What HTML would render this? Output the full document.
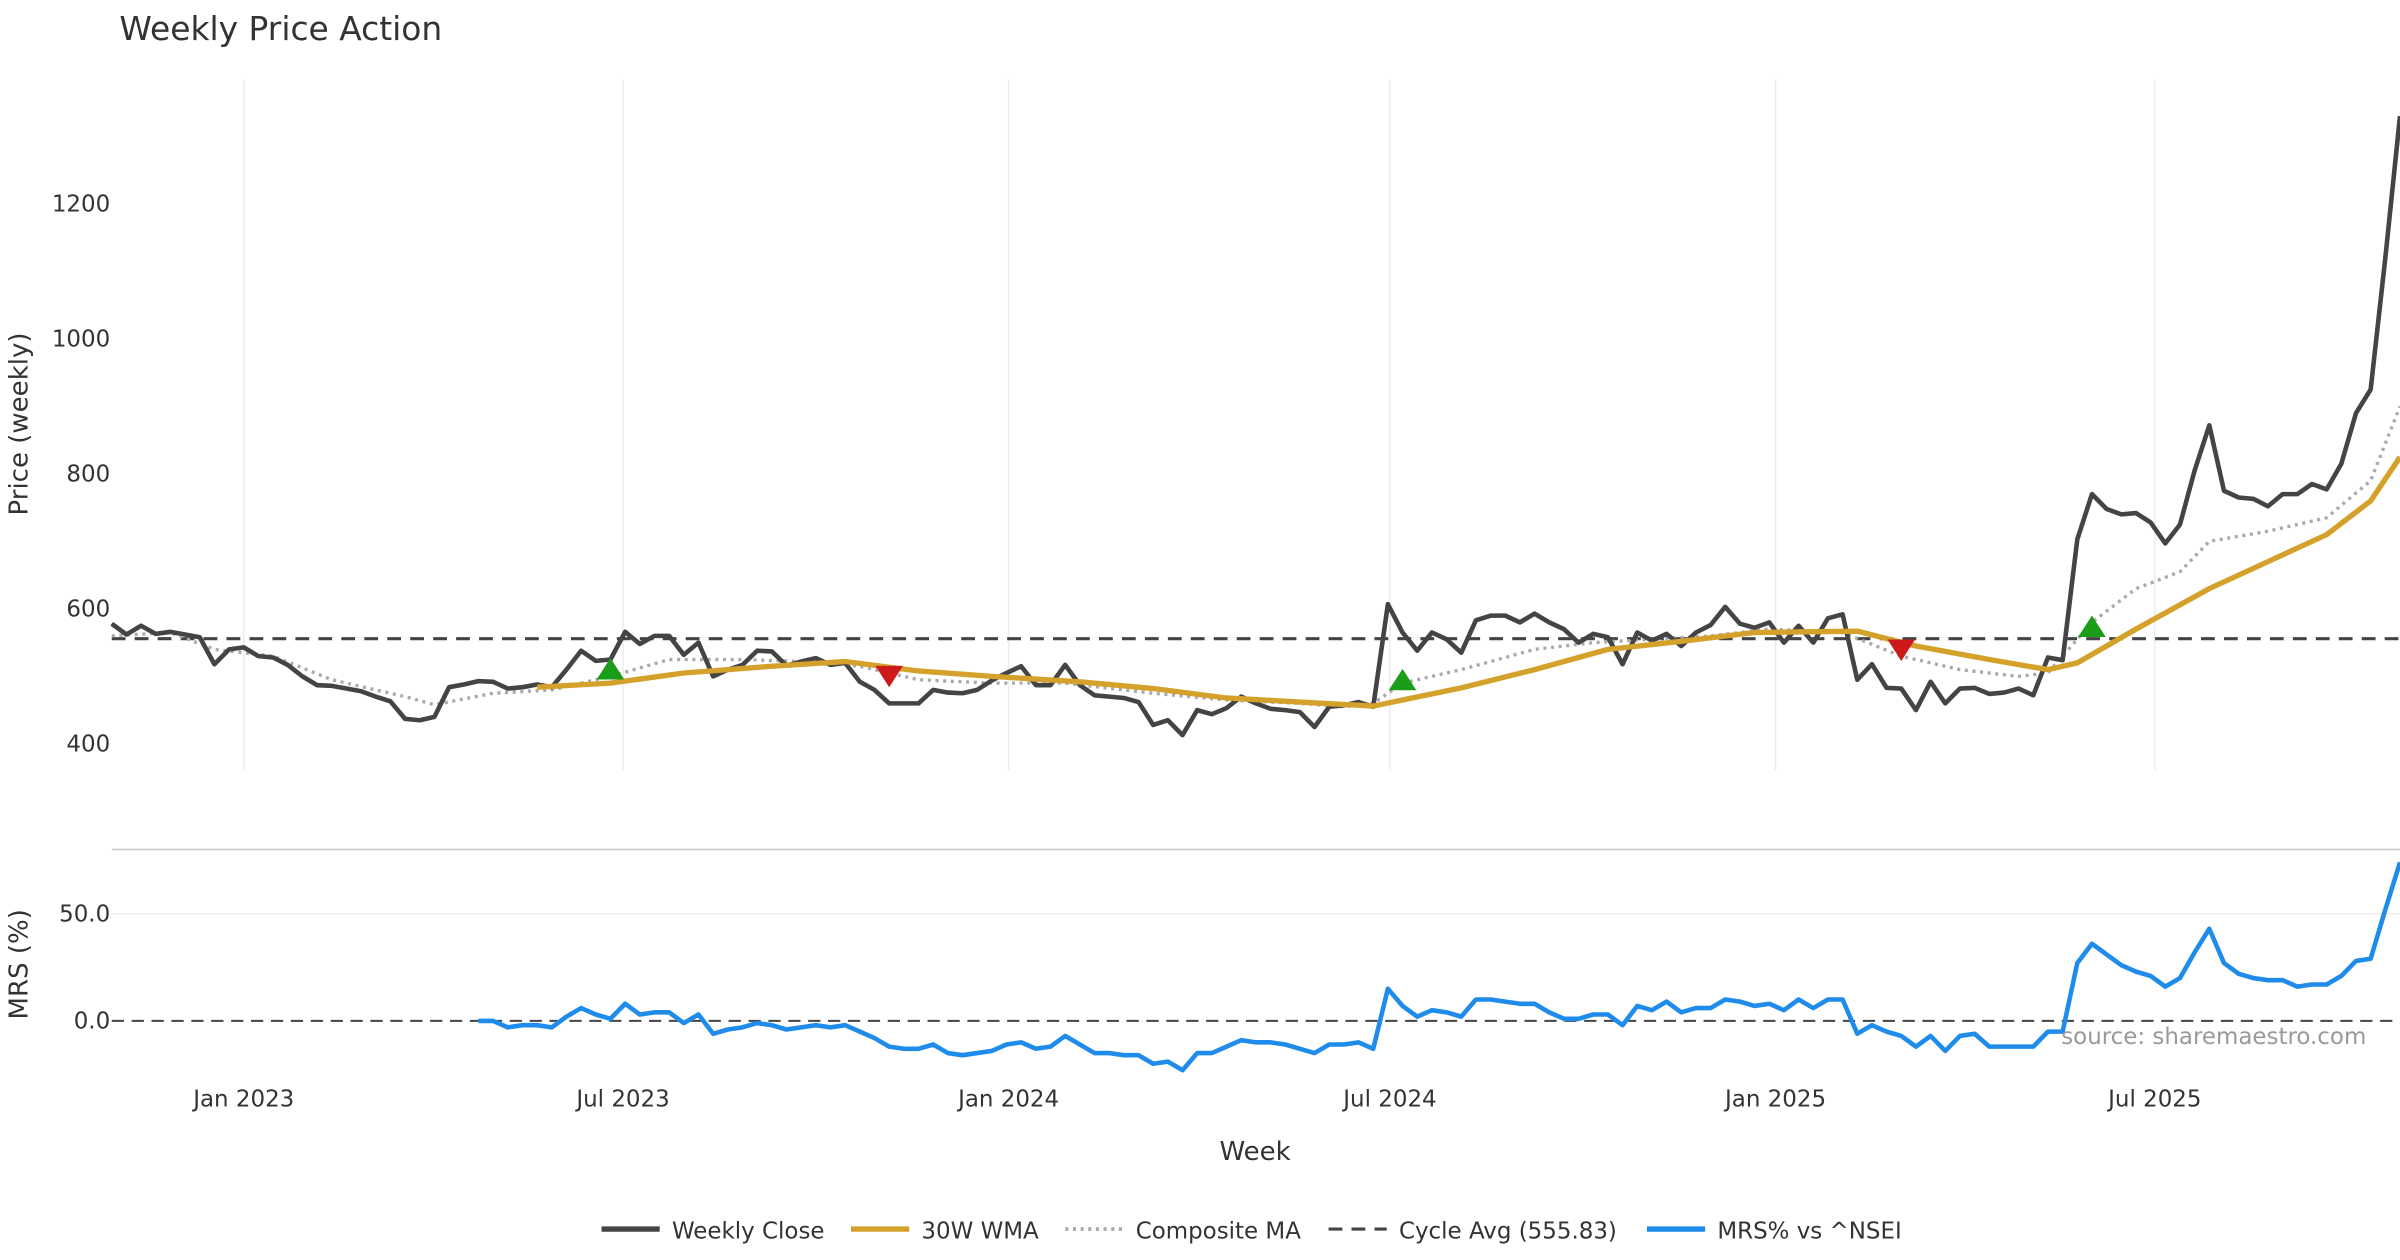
<!DOCTYPE html>
<html><head><meta charset="utf-8"><style>
html,body{margin:0;padding:0;background:#fff}
svg{display:block;font-family:"DejaVu Sans","Liberation Sans",sans-serif}
</style></head><body>
<svg id="chart" width="2400" height="1260" viewBox="0 0 1568 823.2" preserveAspectRatio="none" xmlns="http://www.w3.org/2000/svg">
<text x="78" y="26" font-size="21.5" fill="#333">Weekly Price Action</text>
<g id="price-panel"></g>
<g id="mrs-panel"></g>
<text x="820" y="758" font-size="17" fill="#333" text-anchor="middle">Week</text>
<text transform="translate(18,277) rotate(-90)" font-size="17" fill="#333" text-anchor="middle">Price (weekly)</text>
<text transform="translate(18,630) rotate(-90)" font-size="17" fill="#333" text-anchor="middle">MRS (%)</text>
<text x="1546" y="682" font-size="15" fill="#999" text-anchor="end">source: sharemaestro.com</text>
<g id="legend">
 <g><line x1="393" y1="803" x2="431" y2="803" stroke="#444" stroke-width="3.5"/><text x="439" y="809" font-size="15" fill="#333">Weekly Close</text></g>
 <g><line x1="556" y1="803" x2="594" y2="803" stroke="#d4a12a" stroke-width="3.5"/><text x="602" y="809" font-size="15" fill="#333">30W WMA</text></g>
 <g><line x1="696" y1="803" x2="734" y2="803" stroke="#aaa" stroke-width="2.5" stroke-dasharray="2,3"/><text x="742" y="809" font-size="15" fill="#333">Composite MA</text></g>
 <g><line x1="868" y1="803" x2="906" y2="803" stroke="#444" stroke-width="2" stroke-dasharray="9,6"/><text x="914" y="809" font-size="15" fill="#333">Cycle Avg (555.83)</text></g>
 <g><line x1="1076" y1="803" x2="1114" y2="803" stroke="#1f8ceb" stroke-width="3.5"/><text x="1122" y="809" font-size="15" fill="#333">MRS% vs ^NSEI</text></g>
</g>
</svg>
<script>
const closeValues=[578,562,575,563,566,562,558,518,540,543,530,528,517,500,487,486,482,478,470,463,437,435,440,484,488,493,492,482,484,488,484,510,538,523,525,566,548,560,560,532,550,500,510,517,538,537,516,522,527,517,520,492,480,460,460,460,480,476,475,480,494,505,515,487,487,517,487,472,470,468,462,428,435,413,450,444,453,470,460,452,450,447,425,455,457,462,455,607,565,538,565,555,535,583,590,590,580,593,580,570,550,563,558,518,565,553,563,545,565,576,603,578,572,580,550,575,550,586,592,495,518,483,482,450,492,460,482,483,474,476,482,472,528,524,703,770,748,740,742,728,697,725,805,872,775,765,763,752,770,770,785,777,815,890,925,1120,1330];
const wmaWeeks=[29,34,39,45,50,55,60,66,71,76,81,86,92,97,102,107,112,119,123,128,132,134,138,143,147,151,154,156];
const wmaValues=[484,490,505,515,522,508,500,492,482,468,462,456,483,510,540,552,565,567,545,525,510,520,570,630,670,710,760,825];
const compWeeks=[0,4,7,11,15,20,22,26,30,34,38,43,47,51,55,60,65,71,76,81,84,86,88,92,97,101,105,109,113,118,122,126,130,132,135,138,141,143,147,151,154,156];
const compValues=[560,565,540,530,495,470,458,475,480,500,525,525,522,515,495,490,490,475,465,460,455,460,490,510,540,550,555,560,570,565,530,510,500,505,580,630,655,700,715,735,790,900];
const cycleAvg=555.83;
const buyWeeks=[34,88,135], buyValues=[509,493,572];
const sellWeeks=[53,122], sellValues=[502,541];
const mrsStart=25;
const mrsValues=[0,0,-3,-2,-2,-3,2,6,3,1,8,3,4,4,-1,3,-6,-4,-3,-1,-2,-4,-3,-2,-3,-2,-5,-8,-12,-13,-13,-11,-15,-16,-15,-14,-11,-10,-13,-12,-7,-11,-15,-15,-16,-16,-20,-19,-23,-15,-15,-12,-9,-10,-10,-11,-13,-15,-11,-11,-10,-13,15,7,2,5,4,2,10,10,9,8,8,4,1,1,3,3,-2,7,5,9,4,6,6,10,9,7,8,5,10,6,10,10,-6,-2,-5,-7,-12,-7,-14,-7,-6,-12,-12,-12,-12,-5,-5,27,36,31,26,23,21,16,20,32,43,27,22,20,19,19,16,17,17,21,28,29,52,74];
const priceTicks=[400,600,800,1000,1200];
const mrsTicks=[0,50];
const dateTickLabels=["Jan 2023","Jul 2023","Jan 2024","Jul 2024","Jan 2025","Jul 2025"];
const dateTickDates=["2023-01-01","2023-07-01","2024-01-01","2024-07-01","2025-01-01","2025-07-01"];

const NS="http://www.w3.org/2000/svg";
const startMs=Date.UTC(2022,9,30), WEEK=7*864e5;
const X0=73,X1=1568,N=closeValues.length;
function xw(i){return X0+(X1-X0)*i/(N-1);}
function xd(s){const d=new Date(s+"T00:00:00Z").getTime();return xw((d-startMs)/WEEK);}
function yp(v){return 486-(v-400)*0.441;}
function ym(v){return 667-v*1.4;}
function mk(tag,attrs,parent){const e=document.createElementNS(NS,tag);for(const k in attrs)e.setAttribute(k,attrs[k]);parent.appendChild(e);return e;}
const P=document.getElementById('price-panel'), M=document.getElementById('mrs-panel');

dateTickDates.forEach((d,i)=>{
 const x=xd(d);
 const g=mk('line',{x1:x,x2:x,y1:52,y2:503,stroke:'#ececec','stroke-width':1},P);
 
 
 const t=mk('text',{x:x,y:723,'font-size':15,fill:'#333','text-anchor':'middle'},M);
 t.textContent=dateTickLabels[i];
 
 
});
priceTicks.forEach(v=>{
 const t=mk('text',{x:72,y:yp(v)+5,'font-size':15,fill:'#333','text-anchor':'end'},P);
 t.textContent=v;
 
 
});
mrsTicks.forEach(v=>{
 const t=mk('text',{x:72,y:ym(v)+5,'font-size':15,fill:'#333','text-anchor':'end'},M);
 t.textContent=v.toFixed(1);
 
 
 if(v!==0){const g=mk('line',{x1:X0,x2:X1,y1:ym(v),y2:ym(v),stroke:'#ececec','stroke-width':1},M);
 
 }
});
const sep=mk('line',{x1:X0,x2:X1,y1:555,y2:555,stroke:'#ccc','stroke-width':1.2},M);


const zl=mk('line',{x1:X0,x2:X1,y1:ym(0),y2:ym(0),stroke:'#444','stroke-width':1.3,'stroke-dasharray':'8,5'},M);



const ca=mk('line',{x1:X0,x2:X1,y1:yp(cycleAvg),y2:yp(cycleAvg),stroke:'#444','stroke-width':2,'stroke-dasharray':'9,6'},P);



function poly(xs,ys,style,parent,name){
 const pts=xs.map((x,i)=>x.toFixed(2)+','+ys[i].toFixed(2)).join(' ');
 const p=mk('polyline',Object.assign({points:pts,fill:'none','stroke-linejoin':'round'},style),parent);
 
 
}
poly(compWeeks.map(xw),compValues.map(yp),{stroke:'#aaa','stroke-width':2.2,'stroke-dasharray':'2,3'},P,'composite-ma-line');
poly(closeValues.map((v,i)=>xw(i)),closeValues.map(yp),{stroke:'#444','stroke-width':3},P,'weekly-close-line');
poly(wmaWeeks.map(xw),wmaValues.map(yp),{stroke:'#d4a12a','stroke-width':3.5},P,'wma-30w-line');
poly(mrsValues.map((v,i)=>xw(i+mrsStart)),mrsValues.map(ym),{stroke:'#1f8ceb','stroke-width':3},M,'mrs-line');

buyWeeks.forEach((w,i)=>{const x=xw(w),y=yp(buyValues[i]);
 const t=mk('polygon',{points:`${x-9},${y+6} ${x+9},${y+6} ${x},${y-8}`,fill:'#1a9e1a'},P);
 
 });
sellWeeks.forEach((w,i)=>{const x=xw(w),y=yp(sellValues[i]);
 const t=mk('polygon',{points:`${x-9},${y-6} ${x+9},${y-6} ${x},${y+8}`,fill:'#cc1a1a'},P);
 
 });
</script>
</body></html>
